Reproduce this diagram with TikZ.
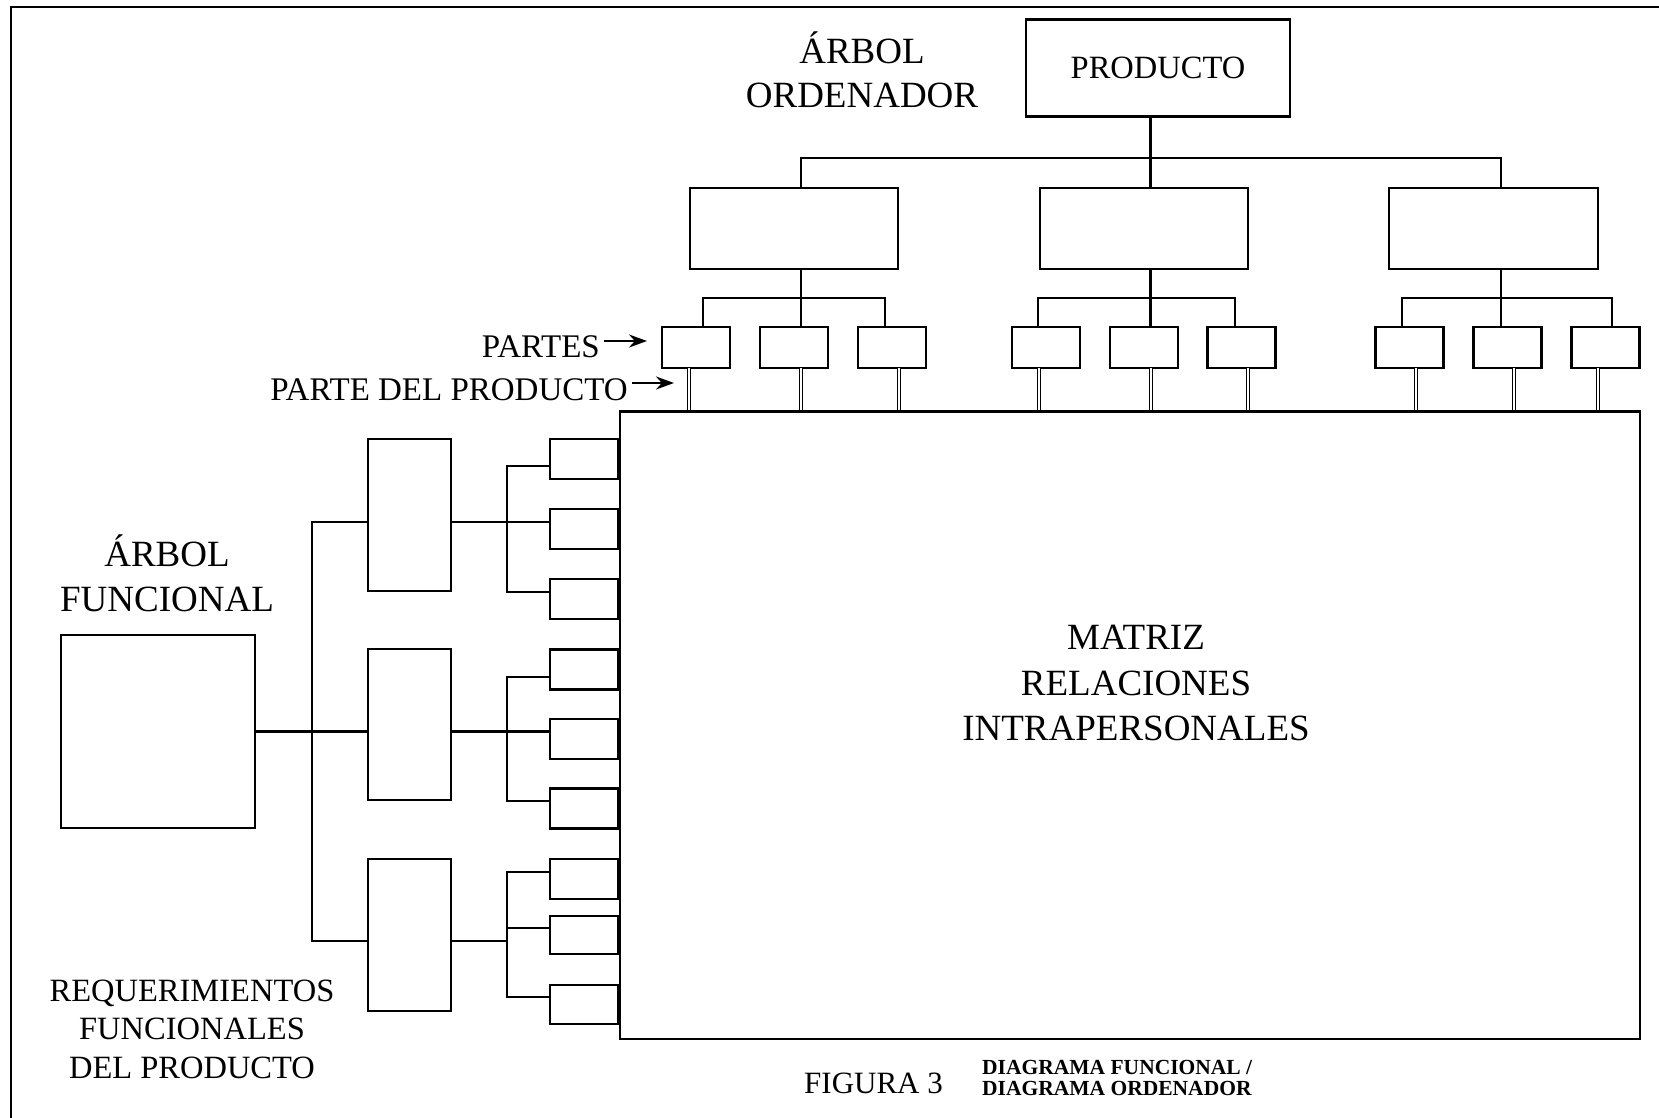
\documentclass[tikz,border=0pt]{standalone}
\usepackage{fontspec}
\setmainfont{Liberation Serif}
\usetikzlibrary{arrows.meta}

\tikzstyle{bloque} = [rectangle, draw=black, line width=2.4pt, inner sep=0pt, outer sep=0pt]
\tikzstyle{ramaOrd} = [bloque, minimum width=208pt, minimum height=81pt]
\tikzstyle{ramaFun} = [bloque, minimum width=83pt, minimum height=151pt]
\tikzstyle{parte} = [bloque, minimum width=68pt, minimum height=41pt]
\tikzstyle{requisito} = [bloque, minimum width=68pt, minimum height=40pt]
\tikzstyle{linea} = [line width=2.4pt]
\tikzstyle{enlace} = [line width=1.3pt, double, double distance=2.2pt, shorten >=1.2pt]
\tikzstyle{arrow} = [line width=2.2pt,->,>={Stealth[length=18pt,width=13pt]}]
\tikzstyle{titulo} = [font=\fontsize{37}{44.5}\selectfont, align=center, inner sep=0pt]
\tikzstyle{etiqueta} = [font=\fontsize{33}{38.5}\selectfont, align=center, inner sep=4pt]

\begin{document}
\begin{tikzpicture}[x=1pt, y=-1pt]
	\useasboundingbox (0,0) rectangle (1659,1118);
	\draw [line width=2.6pt] (11,1118) -- (11,7) -- (1659,7);
	% Arbol ordenador
	\node [bloque, minimum width=264pt, minimum height=97pt, font=\fontsize{32.5}{38}\selectfont] (producto) at (1158,68) {PRODUCTO};
	\node [ramaOrd] (ord1) at (794,228.5) {};
	\node [ramaOrd] (ord2) at (1144,228.5) {};
	\node [ramaOrd, minimum width=209pt] (ord3) at (1493.5,228.5) {};
	\node [parte] (p11) at (696,347.5) {};
	\node [parte] (p12) at (794,347.5) {};
	\node [parte] (p13) at (892,347.5) {};
	\node [parte] (p21) at (1046,347.5) {};
	\node [parte] (p22) at (1144,347.5) {};
	\node [parte] (p23) at (1241.5,347.5) {};
	\node [parte] (p31) at (1409.5,347.5) {};
	\node [parte] (p32) at (1507.5,347.5) {};
	\node [parte] (p33) at (1605.5,347.5) {};
	\node [bloque, minimum width=1020pt, minimum height=627.4pt] (matriz) at (1130,725.3) {};
	% Arbol funcional
	\node [bloque, minimum width=194pt, minimum height=193pt] (funcion) at (158,731.5) {};
	\node [ramaFun, minimum height=152pt] (f1) at (409.5,515) {};
	\node [ramaFun] (f2) at (409.5,724.5) {};
	\node [ramaFun, minimum height=152pt] (f3) at (409.5,935) {};
	\node [requisito] (r11) at (584,459) {};
	\node [requisito] (r12) at (584,529) {};
	\node [requisito] (r13) at (584,599) {};
	\node [requisito] (r21) at (584,669.5) {};
	\node [requisito] (r22) at (584,739) {};
	\node [requisito] (r23) at (584,808.5) {};
	\node [requisito] (r31) at (584,879) {};
	\node [requisito, minimum height=38pt] (r32) at (584,935) {};
	\node [requisito, minimum height=39pt] (r33) at (584,1004.5) {};
	% Textos
	\node [titulo] (arbolOrd) at (862,70) {ÁRBOL\\ORDENADOR};
	\node [titulo] (arbolFun) at (167,573.5) {ÁRBOL\\FUNCIONAL};
	\node [titulo, font=\fontsize{37}{45.5}\selectfont] (matrizTxt) at (1136,683) {MATRIZ\\RELACIONES\\INTRAPERSONALES};
	\node [etiqueta, inner sep=0pt, font=\fontsize{32.5}{38.5}\selectfont] (requerimientos) at (192,1029) {REQUERIMIENTOS\\FUNCIONALES\\DEL PRODUCTO};
	\node [etiqueta, anchor=base east] (partes) at (604,357.6) {PARTES};
	\node [etiqueta, anchor=base east] (parteProducto) at (632,400) {PARTE DEL PRODUCTO};
	\node [anchor=base west, inner sep=0pt, font=\fontsize{31}{36}\selectfont] (figura) at (804,1093) {FIGURA 3};
	\node [anchor=west, inner sep=0pt, align=left, font=\fontsize{21.5}{20.5}\selectfont\bfseries] (pie) at (982,1078) {DIAGRAMA FUNCIONAL /\\DIAGRAMA ORDENADOR};
	\coordinate (busOrd) at (1150.5,158);
	\coordinate (bus1) at (801,298);
	\coordinate (bus2) at (1150.5,298);
	\coordinate (bus3) at (1501,298);
	\coordinate (busFun) at (312,731.5);
	\coordinate (busR1) at (507,522);
	\coordinate (busR2) at (507,731.5);
	\coordinate (busR3) at (507,941);
	\coordinate (puntaPartes) at (647,341);
	\coordinate (puntaParte) at (674,383);
	% Conexiones ordenador
	\draw [linea] ([xshift=-7.5pt]producto.south) -- ([xshift=6.5pt]ord2.north);
	\draw [linea] ([xshift=7pt]ord1.north) |- (busOrd) -| ([xshift=7.5pt]ord3.north);
	\draw [linea] ([xshift=7pt]ord1.south) -- ([xshift=7pt]p12.north);
	\draw [linea] ([xshift=6.5pt]ord2.south) -- ([xshift=6.5pt]p22.north);
	\draw [linea] ([xshift=7.5pt]ord3.south) -- ([xshift=-6.5pt]p32.north);
	\draw [linea] ([xshift=7pt]p11.north) |- (bus1) -| ([xshift=-7pt]p13.north);
	\draw [linea] ([xshift=-8pt]p21.north) |- (bus2) -| ([xshift=-6.5pt]p23.north);
	\draw [linea] ([xshift=-7.5pt]p31.north) |- (bus3) -| ([xshift=6.5pt]p33.north);
	\draw [enlace] ([xshift=-7pt]p11.south) -- ([xshift=-7pt]p11.south |- matriz.north);
	\draw [enlace] ([xshift=7pt]p12.south) -- ([xshift=7pt]p12.south |- matriz.north);
	\draw [enlace] ([xshift=7pt]p13.south) -- ([xshift=7pt]p13.south |- matriz.north);
	\draw [enlace] ([xshift=-7pt]p21.south) -- ([xshift=-7pt]p21.south |- matriz.north);
	\draw [enlace] ([xshift=7pt]p22.south) -- ([xshift=7pt]p22.south |- matriz.north);
	\draw [enlace] ([xshift=6.5pt]p23.south) -- ([xshift=6.5pt]p23.south |- matriz.north);
	\draw [enlace] ([xshift=6.5pt]p31.south) -- ([xshift=6.5pt]p31.south |- matriz.north);
	\draw [enlace] ([xshift=6.5pt]p32.south) -- ([xshift=6.5pt]p32.south |- matriz.north);
	\draw [enlace] ([xshift=-7.5pt]p33.south) -- ([xshift=-7.5pt]p33.south |- matriz.north);
	% Conexiones funcional
	\draw [linea] (funcion.east) -- ([yshift=-7pt]f2.west);
	\draw [linea] ([yshift=-7pt]f1.west) -| (busFun) |- ([yshift=-6pt]f3.west);
	\draw [linea] ([yshift=-7pt]f1.east) -- ([yshift=7pt]r12.west);
	\draw [linea] ([yshift=-7pt]r11.west) -| (busR1) |- ([yshift=7pt]r13.west);
	\draw [linea] ([yshift=-7pt]f2.east) -- ([yshift=7.5pt]r22.west);
	\draw [linea] ([yshift=-7.5pt]r21.west) -| (busR2) |- ([yshift=7.5pt]r23.west);
	\draw [linea] ([yshift=-6pt]f3.east) -- (busR3);
	\draw [linea] ([yshift=7pt]r31.west) -| (busR3) |- ([yshift=7.5pt]r33.west);
	\draw [linea] ([yshift=7pt]r32.west) -- ([yshift=7pt]r32.west -| busR3);
	% Flechas
	\draw [arrow] (partes.east |- puntaPartes) -- (puntaPartes);
	\draw [arrow] (parteProducto.east |- puntaParte) -- (puntaParte);
\end{tikzpicture}
\end{document}
